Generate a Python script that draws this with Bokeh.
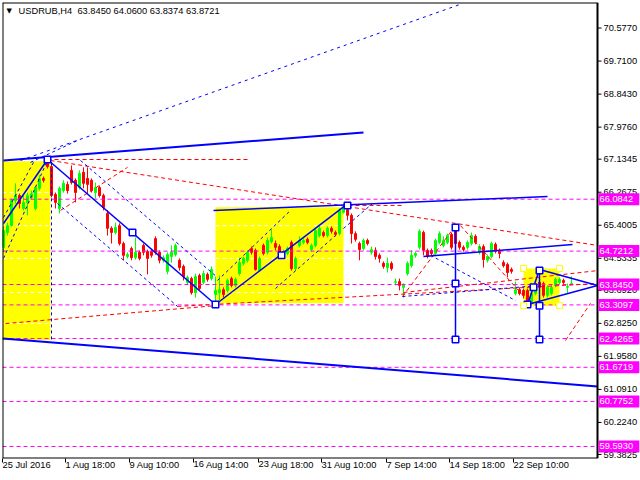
from bokeh.plotting import figure
from bokeh.models import Range1d, FixedTicker, Label, ColumnDataSource, PrintfTickFormatter
from bokeh.embed import file_html
from bokeh.resources import INLINE

# ---------------- data ----------------
opens = [64.82,65.21,65.39,66.05,66.18,65.84,66.00,66.13,65.84,66.37,
         66.63,67.02,66.94,66.21,65.84,66.31,66.47,66.84,66.58,66.39,
         66.79,66.63,66.58,66.26,66.39,66.18,65.71,65.32,65.21,65.39,
         64.92,64.58,64.79,64.55,64.69,64.87,64.71,64.71,65.05,64.69,
         64.48,64.19,64.58,64.63,64.48,64.32,63.90,64.00,63.63,64.08,
         63.90,64.11,64.00,63.58,63.63,63.71,63.69,64.00,63.82,64.13,
         64.40,64.48,64.79,64.74,64.21,64.87,64.69,64.97,64.92,64.84,
         64.66,64.66,64.95,64.26,64.87,64.95,65.03,64.76,64.87,65.13,
         65.21,65.13,65.32,65.21,65.18,65.74,65.81,65.66,65.18,64.92,
         64.79,65.00,64.69,64.74,64.61,64.40,64.29,64.40,63.90,63.92,
         63.77,64.13,64.34,64.61,64.82,65.21,64.74,64.74,64.66,64.95,
         64.87,64.95,65.16,65.29,64.95,64.82,64.82,64.92,65.11,64.69,
         64.84,64.48,64.58,64.90,64.74,64.42,64.37,64.24,63.61,63.71,
         63.69,63.69,63.37,63.61,63.90,63.87,63.56,63.61,63.82,63.90,
         63.95,63.77,63.85]
highs = [65.37,65.47,66.10,66.50,66.23,66.18,66.26,66.31,66.42,66.71,
         66.68,67.13,67.02,66.26,66.42,66.58,66.55,66.97,66.63,66.84,
         66.92,66.92,66.63,66.52,66.44,66.23,65.79,65.37,65.47,65.45,
         64.97,64.69,64.84,65.08,64.74,64.92,64.76,64.76,65.11,64.74,
         64.61,64.69,64.87,64.92,64.53,64.37,64.08,64.05,64.13,64.13,
         64.21,64.16,64.32,64.05,64.08,63.77,64.00,64.05,64.03,64.55,
         64.58,64.74,64.84,64.79,64.58,64.92,65.08,65.29,65.00,64.90,
         64.76,64.84,65.00,64.58,65.11,65.05,65.08,64.92,65.32,65.37,
         65.26,65.37,65.37,65.26,65.84,65.97,65.89,65.71,65.24,64.97,
         65.05,65.05,64.84,64.82,64.66,64.45,64.55,64.45,64.00,64.00,
         63.87,64.45,64.74,64.71,65.29,65.26,64.79,64.79,65.05,65.24,
         65.11,65.18,65.21,65.34,65.00,64.87,65.00,65.21,65.16,64.90,
         64.90,64.63,64.97,64.95,64.79,64.48,64.42,64.29,63.92,63.77,
         63.74,63.74,63.66,63.77,63.95,63.92,63.82,63.82,64.03,64.03,
         64.00,63.87,64.06]
lows = [64.69,65.13,65.37,65.97,65.84,65.79,65.66,66.08,65.79,66.31,
        66.52,66.89,66.13,65.84,65.71,66.26,66.23,66.47,66.00,66.34,
        66.37,66.23,66.26,66.10,66.13,65.79,65.13,64.92,65.16,64.87,
        64.48,64.53,64.48,64.50,64.48,64.61,64.11,64.55,64.63,64.40,
        64.42,64.11,64.42,64.58,64.21,63.95,63.85,63.58,63.50,63.69,
        63.85,63.92,63.95,63.32,63.43,63.50,63.63,63.77,63.77,64.08,
        64.34,64.42,64.63,64.21,64.19,64.61,64.63,64.92,64.74,64.61,
        64.61,64.61,64.21,64.21,64.82,64.90,64.90,64.71,64.82,65.08,
        65.08,65.08,65.18,65.11,65.13,65.71,65.53,64.92,64.97,64.48,
        64.74,64.87,64.63,64.50,64.42,64.26,64.16,64.21,63.82,63.69,
        63.50,64.08,64.29,64.55,64.76,64.61,64.53,64.61,64.61,64.90,
        64.82,64.90,64.76,64.87,64.76,64.71,64.76,64.87,64.90,64.63,
        64.29,64.42,64.53,64.66,64.53,64.29,64.03,64.13,63.56,63.56,
        63.48,63.32,63.32,63.56,63.71,63.50,63.50,63.56,63.77,63.85,
        63.85,63.61,63.84]
closes = [65.26,65.39,66.05,66.18,65.97,66.00,66.18,66.23,66.39,66.63,
          66.58,66.94,66.18,66.00,66.37,66.50,66.31,66.52,66.26,66.76,
          66.50,66.47,66.31,66.39,66.18,65.87,65.32,65.21,65.34,64.92,
          64.61,64.63,64.55,64.69,64.53,64.69,64.53,64.61,64.69,64.48,
          64.55,64.63,64.69,64.87,64.29,64.05,64.03,63.63,64.05,63.74,
          64.13,63.98,64.24,63.69,63.71,63.58,63.95,63.82,63.98,64.42,
          64.53,64.69,64.69,64.24,64.53,64.66,65.00,65.08,64.82,64.66,
          64.71,64.79,64.26,64.53,65.00,65.00,64.95,64.87,65.26,65.32,
          65.13,65.32,65.24,65.16,65.79,65.87,65.66,65.18,65.03,64.76,
          65.00,64.92,64.76,64.58,64.53,64.32,64.40,64.26,63.92,63.82,
          63.85,64.40,64.61,64.66,65.24,64.74,64.58,64.66,65.00,65.18,
          65.00,65.13,64.82,64.92,64.82,64.76,64.95,65.13,64.95,64.84,
          64.50,64.58,64.92,64.71,64.66,64.34,64.16,64.19,63.71,63.61,
          63.56,63.35,63.61,63.69,63.77,63.56,63.77,63.77,63.98,63.98,
          63.90,63.79,63.87]

levels = [66.0842, 64.7212, 63.8450, 63.3097, 62.4265, 61.6719, 60.7752, 59.5930]
price_ticks = [70.5770, 69.7100, 68.8430, 67.9760, 67.1345, 66.2675, 65.4005,
               64.5335, 63.6920, 62.8250, 61.9580, 61.0910, 60.2240, 59.3825]
date_ticks = [-0.25, 15.5, 31.5, 47.5, 63.75, 79.5, 95.75, 111.5, 127.5]
date_labels = ["25 Jul 2016", "1 Aug 18:00", "9 Aug 10:00", "16 Aug 14:00",
               "23 Aug 18:00", "31 Aug 10:00", "7 Sep 14:00", "14 Sep 18:00",
               "22 Sep 10:00"]
title_text = "USDRUB,H4\u00a0 63.8450 64.0600 63.8374 63.8721"

# analysis objects (bar index, price)
box_left = [-0.25, 53, 130]
box_right = [11.75, 85, 139]
box_top = [67.08, 65.87, 64.265]
box_bottom = [62.38, 63.35, 63.29]

white_x0 = [-0.25, -0.25, -0.25, -0.25, -0.25, 53, 53, 53]
white_x1 = [11.75, 11.75, 11.75, 11.75, 11.75, 85, 85, 85]
white_y = [66.26, 65.39, 64.53, 63.635, 62.82, 65.39, 64.53, 63.635]

thick_x0 = [0, -0.25]
thick_y0 = [67.10, 62.43]
thick_x1 = [90, 148.5]
thick_y1 = [67.835, 61.17]

solid_x0 = [52.5, 105, 11, 53, 0, 134, 131, 113, 134, 131]
solid_y0 = [65.79, 64.58, 67.126, 63.32, 65.446, 64.24, 63.32, 65.34, 64.24, 63.32]
solid_x1 = [136, 142.25, 53, 85.5, 11, 148.5, 148.5, 113, 134, 134]
solid_y1 = [66.155, 64.895, 63.32, 65.92, 67.126, 63.82, 63.82, 62.40, 62.40, 64.24]

dash_x0 = [6.75, 12, 0, 0, 19.25, 13.5, 53.5, 68, 85, 99.75, 106.75]
dash_y0 = [67.05, 67.05, 64.53, 65.60, 67.10, 65.97, 63.95, 63.74, 65.315, 63.53, 64.61]
dash_x1 = [18.5, 12, 11, 7.5, 53.5, 43.5, 71.75, 83, 92.25, 134.25, 128]
dash_y1 = [67.625, 62.375, 67.10, 67.05, 64.03, 63.27, 65.79, 65.13, 65.97, 63.82, 63.425]

dot_x0 = [4.25]
dot_y0 = [67.10]
dot_x1 = [114.75]
dot_y1 = [71.22]

red_x0 = [11, 11.75, 0.5, 43.5, 14.25, 99.75, 114.25, 100, 86.25, 140.5]
red_y0 = [67.126, 67.10, 62.82, 63.27, 65.79, 63.53, 65.39, 63.635, 65.92, 62.375]
red_x1 = [61.25, 148.5, 53, 148.5, 31, 113, 131, 148.5, 100, 146.75]
red_y1 = [67.126, 64.87, 63.29, 63.87, 66.92, 65.39, 63.425, 64.21, 65.92, 63.35]

point_x = [11, 32.25, 53, 69.5, 86, 113, 113, 113, 134, 134, 134, 132.5, 131]
point_y = [67.126, 65.21, 63.32, 64.61, 65.92, 65.34, 63.87, 62.40, 64.21, 63.29, 62.40, 63.77, 63.32]

handle_x = [130, 139, 130, 139]
handle_y = [64.265, 64.265, 63.29, 63.29]

# ---------------- figure ----------------
X0, X1, XEND = -0.25, 148.5, 159.25
Y0, Y1 = 59.2775, 71.2475
p = figure(width=640, height=480, x_range=Range1d(X0, XEND), y_range=Range1d(Y0, Y1),
           y_axis_location="right", output_backend="svg", toolbar_location=None,
           min_border_left=2, min_border_top=2, min_border_right=0, min_border_bottom=22)
p.xgrid.visible = False
p.ygrid.visible = False
p.background_fill_color = "white"
p.border_fill_color = "white"
p.outline_line_color = None

FONT = "Liberation Sans"
FS = "9.3px"
for ax in (p.xaxis[0], p.yaxis[0]):
    ax.axis_line_color = None
    ax.major_tick_line_color = "black"
    ax.minor_tick_line_color = None
    ax.major_tick_in = 0
    ax.major_label_text_font = FONT
    ax.major_label_text_font_size = FS
    ax.major_label_text_color = "black"

p.xaxis.major_tick_out = 4
p.xaxis.major_label_standoff = 2
p.xaxis.ticker = FixedTicker(ticks=date_ticks)
p.xaxis.major_label_overrides = {t: l for t, l in zip(date_ticks, date_labels)}
p.xaxis.major_label_orientation = -1e-6   # keeps text level, anchors it at its left end

# price scale: labels are placed in the strip right of the last bar
p.yaxis.major_tick_out = 0
p.yaxis.major_label_standoff = -37
p.yaxis.ticker = FixedTicker(ticks=price_ticks)
p.yaxis.formatter = PrintfTickFormatter(format="%.4f")

# yellow rectangles
p.quad(left=box_left, right=box_right, top=box_top, bottom=box_bottom,
       fill_color="#FFFF00", line_color=None)
p.segment(x0=white_x0, y0=white_y, x1=white_x1, y1=white_y,
          line_color="white", line_width=1, line_dash="4 3")

# candles
idx = list(range(len(opens)))
colors = ["#00FF00" if c >= o else "#FF0000" for o, c in zip(opens, closes)]
src = ColumnDataSource(dict(x=idx, o=opens, h=highs, l=lows, c=closes,
                            top=[max(o, c) for o, c in zip(opens, closes)],
                            bot=[min(o, c) for o, c in zip(opens, closes)],
                            col=colors))
p.segment(x0="x", y0="h", x1="x", y1="l", source=src, line_color="col", line_width=1)
p.vbar(x="x", top="top", bottom="bot", width=0.5, source=src,
       fill_color="col", line_color="col", line_width=1)

# magenta levels
p.segment(x0=[X0] * len(levels), y0=levels, x1=[X1] * len(levels), y1=levels,
          line_color="#FF00FF", line_width=1, line_dash="4 3")

# red dashed lines
p.segment(x0=red_x0, y0=red_y0, x1=red_x1, y1=red_y1,
          line_color="#FF0000", line_width=1, line_dash="4 3")

# blue lines
p.segment(x0=dot_x0, y0=dot_y0, x1=dot_x1, y1=dot_y1,
          line_color="#0000FF", line_width=1, line_dash="3 4")
p.segment(x0=dash_x0, y0=dash_y0, x1=dash_x1, y1=dash_y1,
          line_color="#0000FF", line_width=1, line_dash="3 3")
p.segment(x0=solid_x0, y0=solid_y0, x1=solid_x1, y1=solid_y1,
          line_color="#0000FF", line_width=1.5)
p.segment(x0=thick_x0, y0=thick_y0, x1=thick_x1, y1=thick_y1,
          line_color="#0000FF", line_width=2)

p.scatter(x=point_x, y=point_y, marker="square", size=6.5,
          fill_color="white", line_color="#0000FF", line_width=1.5)
p.scatter(x=handle_x, y=handle_y, marker="square", size=6,
          fill_color="white", line_color="#FFFF00", line_width=1)

# chart border and price-scale line / ticks
p.segment(x0=[X0, X0, X1, X0], y0=[Y0, Y1, Y0, Y0], x1=[X0, X1, X1, X1], y1=[Y1, Y1, Y1, Y0],
          line_color="black", line_width=2)
p.segment(x0=[X1] * len(price_ticks), y0=price_ticks, x1=[X1 + 1] * len(price_ticks),
          y1=price_ticks, line_color="black", line_width=1)

# price labels on the scale
for lv in levels:
    p.add_layout(Label(x=X1, y=lv, x_offset=1, text=" %.4f " % lv,
                       text_font=FONT, text_font_size=FS, text_color="white",
                       text_baseline="middle", text_align="left",
                       background_fill_color="#FF00FF", padding=1))

# header
p.add_layout(Label(x=X0, y=Y1, x_offset=4, y_offset=-4, text="\u25bc",
                   text_font="DejaVu Sans", text_font_size="7px", text_color="black",
                   text_baseline="top"))
p.add_layout(Label(x=X0, y=Y1, x_offset=16, y_offset=-3, text=title_text,
                   text_font=FONT, text_font_size=FS, text_color="black",
                   text_baseline="top"))

open("out.html", "w").write(file_html(p, INLINE))
